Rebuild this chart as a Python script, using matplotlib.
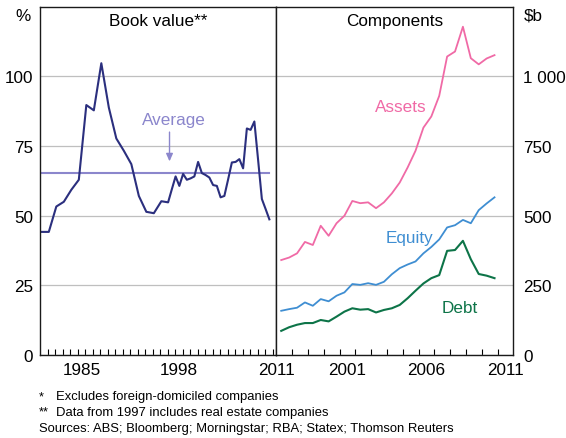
import matplotlib.pyplot as plt

plt.rcParams['font.family'] = ['Liberation Sans', 'DejaVu Sans']

# Book value gearing (%) - annual to 1996, half-yearly after
bv_years_annual = [1980, 1981, 1982, 1983, 1984, 1985, 1986, 1987, 1988,
                   1989, 1990, 1991, 1992, 1993, 1994, 1995, 1996]
bv_annual = [44.2, 44.2, 53.3, 55.0, 59.3, 62.9, 89.7, 87.8, 104.7,
             88.8, 77.7, 73.3, 68.5, 57.1, 51.4, 50.9, 55.2]
bv_half_start = 1997.05
bv_half = [54.8, 59.5, 64.1, 60.7, 65.0, 62.9, 63.4, 64.1, 69.3, 65.3,
           64.6, 63.7, 61.0, 60.7, 56.6, 57.1, 63.0, 69.1, 69.3, 70.3,
           67.0, 81.3, 80.8, 83.8, 70.0, 56.0, 52.4, 48.7]
bv_average = 65.5

# Components ($b), half-yearly
comp_start = 1997.3
assets = [341, 350, 365, 406, 395, 464, 428, 473, 500, 553, 545, 548, 527, 548,
          580, 619, 673, 733, 816, 856, 930, 1071, 1089, 1178, 1065, 1043, 1064, 1076]
equity = [159, 165, 170, 189, 177, 201, 193, 213, 225, 255, 252, 258, 252, 263,
          290, 312, 325, 336, 365, 388, 415, 458, 466, 485, 473, 520, 544, 566]
debt = [87, 100, 109, 115, 115, 126, 121, 138, 156, 168, 163, 165, 153, 162,
        168, 180, 204, 231, 257, 276, 287, 374, 377, 410, 344, 291, 285, 276]

left_labels = ['1985', '1998', '2011']
right_labels = ['2001', '2006', '2011']
left_yticks = [0, 25, 50, 75, 100]
right_yticks = [0, 250, 500, 750, 1000]
right_ylabels = ['0', '250', '500', '750', '1 000']

navy = '#2b2f7e'
lavender = '#8b86cc'
pink = '#f06aa6'
blue = '#3f8ed2'
green = '#0d7448'
grid_c = '#bfbfbf'
fs = 12.3

bv_x = [y + 0.15 for y in bv_years_annual] + [bv_half_start + 0.5 * i for i in range(len(bv_half))]
bv_y = bv_annual + bv_half
comp_x = [comp_start + 0.5 * i for i in range(len(assets))]

fig = plt.figure(figsize=(5.66, 4.39), dpi=100)
ax1 = fig.add_axes([0.0710, 0.1888, 0.4175, 0.7938])
ax2 = fig.add_axes([0.4885, 0.1888, 0.4187, 0.7938])

# -------------------------------
# LEFT PANEL: BOOK VALUE
# -------------------------------
ax1.set_xlim(1980, 2011.5)
ax1.set_ylim(0, 125)
ax1.set_yticks(left_yticks)
ax1.set_yticklabels([str(v) for v in left_yticks])
ax1.grid(axis='y', color=grid_c, lw=0.9)
ax1.set_axisbelow(True)
ax1.axhline(bv_average, xmin=(bv_x[0] - 1980) / 31.5, xmax=(bv_x[-1] - 1980) / 31.5,
            color=lavender, lw=1.5)
ax1.plot(bv_x, bv_y, color=navy, lw=1.5)
ax1.text(1997.77, 84.6, 'Average', color=lavender, fontsize=fs, ha='center', va='center')
ax1.annotate('', xy=(1997.24, 68.5), xytext=(1997.24, 81.0),
             arrowprops=dict(arrowstyle='-|>,head_length=0.45,head_width=0.2',
                             color=lavender, lw=1))
ax1.text(0.5, 0.959, 'Book value**', transform=ax1.transAxes, fontsize=fs,
         ha='center', va='center')
ax1.set_xticks([int(l) + 0.5 for l in left_labels])
ax1.set_xticklabels(left_labels)
ax1.set_xticks(range(1981, 2012), minor=True)

# -------------------------------
# RIGHT PANEL: COMPONENTS
# -------------------------------
ax2.set_xlim(1997, 2012)
ax2.set_ylim(0, 1250)
ax2.set_yticks(right_yticks)
ax2.set_yticklabels(right_ylabels)
ax2.grid(axis='y', color=grid_c, lw=0.9)
ax2.set_axisbelow(True)
ax2.plot(comp_x, assets, color=pink, lw=1.3)
ax2.plot(comp_x, equity, color=blue, lw=1.3)
ax2.plot(comp_x, debt, color=green, lw=1.5)
ax2.text(2004.88, 893, 'Assets', color=pink, fontsize=fs, ha='center', va='center')
ax2.text(2005.39, 422, 'Equity', color=blue, fontsize=fs, ha='center', va='center')
ax2.text(2008.57, 171, 'Debt', color=green, fontsize=fs, ha='center', va='center')
ax2.text(0.5, 0.959, 'Components', transform=ax2.transAxes, fontsize=fs,
         ha='center', va='center')
ax2.set_xticks([int(l) + 0.5 for l in right_labels])
ax2.set_xticklabels(right_labels)
ax2.set_xticks(range(1998, 2012), minor=True)
ax2.yaxis.tick_right()

for ax in (ax1, ax2):
    for s in ax.spines.values():
        s.set_linewidth(1.0)
        s.set_color('#1a1a1a')
    ax.tick_params(axis='x', which='major', length=0, pad=5, labelsize=fs)
    ax.tick_params(axis='x', which='minor', direction='in', length=4.3, width=0.8)
    ax.tick_params(axis='y', length=0, labelsize=fs)
ax1.tick_params(axis='y', pad=5)
ax2.tick_params(axis='y', pad=7)

fig.text(23 / 566, 1 - 16.7 / 439, '%', fontsize=fs, ha='center', va='center')
fig.text(524 / 566, 1 - 16 / 439, '$b', fontsize=fs, ha='left', va='center')

# footnotes
fn = 9.35
fig.text(39 / 566, 1 - 397.3 / 439, '*', fontsize=fn, va='center')
fig.text(56 / 566, 1 - 397.3 / 439, 'Excludes foreign-domiciled companies', fontsize=fn, va='center')
fig.text(39 / 566, 1 - 412.7 / 439, '**', fontsize=fn, va='center')
fig.text(56 / 566, 1 - 412.7 / 439, 'Data from 1997 includes real estate companies', fontsize=fn, va='center')
fig.text(39 / 566, 1 - 429.3 / 439, 'Sources: ABS; Bloomberg; Morningstar; RBA; Statex; Thomson Reuters',
         fontsize=fn, va='center')

fig.savefig('out.png', dpi=100)
